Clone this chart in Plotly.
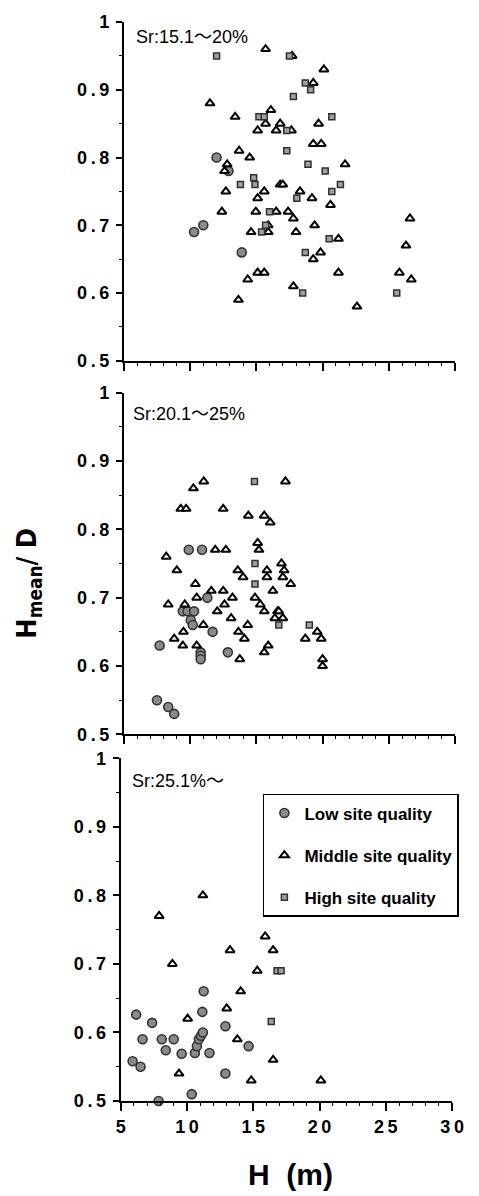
import plotly.graph_objects as go

# ---------------- data ----------------
# Panel 1: Sr 15.1~20%
p1_low_x = [10.3, 11.0, 12.0, 12.9, 13.9]
p1_low_y = [0.69, 0.70, 0.80, 0.78, 0.66]
p1_mid_x = [15.7, 17.7, 20.1, 19.3, 11.5, 13.4, 16.1, 15.7, 15.1, 16.8, 16.5, 17.65, 19.7, 19.3, 19.9,
            13.7, 14.5, 12.8, 12.6, 21.7, 16.8, 17.0, 12.7, 15.6, 18.3, 15.1, 19.2, 12.4, 14.96, 16.5,
            17.4, 17.8, 20.6, 14.6, 15.9, 15.9, 18.0, 19.4, 21.2, 19.85, 19.3, 15.1, 15.6, 14.35, 13.65,
            17.8, 21.2, 22.6, 25.8, 26.3, 26.6, 26.7]
p1_mid_y = [0.96, 0.95, 0.93, 0.91, 0.88, 0.86, 0.87, 0.85, 0.84, 0.85, 0.84, 0.84, 0.85, 0.82, 0.82,
            0.81, 0.80, 0.79, 0.78, 0.79, 0.76, 0.76, 0.75, 0.75, 0.75, 0.74, 0.74, 0.72, 0.72, 0.72,
            0.72, 0.71, 0.73, 0.69, 0.70, 0.69, 0.69, 0.70, 0.68, 0.66, 0.65, 0.63, 0.63, 0.62, 0.59,
            0.61, 0.63, 0.58, 0.63, 0.67, 0.71, 0.62]
p1_high_x = [12.0, 17.5, 18.7, 19.1, 17.8, 15.2, 15.6, 20.7, 17.3, 17.3, 18.9, 20.2, 14.8, 14.9, 13.8,
             21.35, 20.7, 18.06, 16.0, 15.4, 15.7, 20.5, 18.7, 18.5, 25.6]
p1_high_y = [0.95, 0.95, 0.91, 0.90, 0.89, 0.86, 0.86, 0.86, 0.84, 0.81, 0.79, 0.78, 0.77, 0.76, 0.76,
             0.76, 0.75, 0.74, 0.72, 0.69, 0.70, 0.68, 0.66, 0.60, 0.60]

# Panel 2: Sr 20.1~25%
p2_low_x = [9.9, 10.9, 11.3, 9.45, 9.8, 10.3, 10.05, 10.2, 11.7, 7.7, 10.8, 10.8, 10.8, 12.85, 7.5, 8.35, 8.8]
p2_low_y = [0.77, 0.77, 0.70, 0.68, 0.68, 0.68, 0.667, 0.66, 0.65, 0.63, 0.62, 0.615, 0.61, 0.62, 0.55, 0.54, 0.53]
p2_mid_x = [10.25, 11.03, 17.2, 9.3, 9.7, 12.5, 14.4, 15.6, 16.05, 15.1, 15.2, 11.9, 12.7, 8.2, 16.9,
            9.0, 13.6, 14.0, 15.8, 15.8, 17.1, 17.0, 17.6, 10.4, 16.25, 11.6, 12.5, 10.5, 13.2, 14.9,
            8.35, 9.6, 12.6, 15.3, 12.05, 15.6, 16.6, 16.7, 16.4, 17.0, 13.1, 11.0, 9.5, 13.65, 14.35,
            19.6, 18.7, 19.9, 14.1, 8.8, 9.45, 10.5, 15.9, 15.6, 13.75, 20.0, 20.0]
p2_mid_y = [0.86, 0.87, 0.87, 0.83, 0.83, 0.83, 0.82, 0.82, 0.81, 0.78, 0.77, 0.77, 0.77, 0.76, 0.75,
            0.74, 0.74, 0.73, 0.74, 0.73, 0.74, 0.73, 0.72, 0.72, 0.71, 0.71, 0.71, 0.70, 0.70, 0.70,
            0.69, 0.69, 0.69, 0.69, 0.68, 0.68, 0.68, 0.68, 0.67, 0.67, 0.67, 0.66, 0.65, 0.65, 0.66,
            0.65, 0.64, 0.64, 0.64, 0.64, 0.63, 0.63, 0.63, 0.62, 0.61, 0.61, 0.60]
p2_high_x = [14.86, 14.9, 14.9, 16.7, 19.0]
p2_high_y = [0.87, 0.75, 0.72, 0.66, 0.66]

# Panel 3: Sr 25.1%~
p3_low_x = [11.26, 11.16, 6.17, 7.37, 12.9, 10.6, 10.75, 10.9, 11.05, 11.2, 6.65, 8.1, 9.0, 8.4, 9.6,
            11.7, 14.65, 5.9, 6.5, 12.9, 10.36, 7.86]
p3_low_y = [0.66, 0.63, 0.626, 0.614, 0.609, 0.57, 0.58, 0.59, 0.595, 0.60, 0.59, 0.59, 0.59, 0.574, 0.569,
            0.57, 0.58, 0.558, 0.55, 0.54, 0.51, 0.50]
p3_mid_x = [11.2, 7.9, 15.9, 13.25, 16.5, 8.9, 15.3, 14.05, 13.0, 10.05, 13.8, 16.5, 9.4, 14.85, 20.1]
p3_mid_y = [0.80, 0.77, 0.74, 0.72, 0.72, 0.70, 0.69, 0.66, 0.635, 0.62, 0.59, 0.56, 0.54, 0.53, 0.53]
p3_high_x = [16.8, 17.1, 16.36]
p3_high_y = [0.69, 0.69, 0.616]

panel_labels = ["Sr:15.1～20%", "Sr:20.1～25%", "Sr:25.1%～"]
series_names = ["Low site quality", "Middle site quality", "High site quality"]

y_tickvals = [0.5, 0.6, 0.7, 0.8, 0.9, 1.0]
y_ticktext = ["0\u2009.\u20095", "0\u2009.\u20096", "0\u2009.\u20097", "0\u2009.\u20098", "0\u2009.\u20099", "1"]
x_tickvals = [5, 10, 15, 20, 25, 30]
x_ticktext = ["5", "1\u20090", "1\u20095", "2\u20090", "2\u20095", "3\u20090"]

# ---------------- styles ----------------
W, H = 479, 1196
ML, MR, MT, MB = 120, 12, 15, 95
PW, PH = W - ML - MR, H - MT - MB


def px_x(p):
    return (p - ML) / PW


def px_y(p):
    return (H - MB - p) / PH


styles = {
    "low": dict(symbol="circle", size=9, color="#8a8a8a", line=dict(color="#333333", width=1.6)),
    "mid": dict(symbol="triangle-up", size=8, color="white", line=dict(color="black", width=2)),
    "high": dict(symbol="square", size=6, color="#a0a0a0", line=dict(color="#303030", width=1.5)),
}

panels = [
    (p1_low_x, p1_low_y, p1_mid_x, p1_mid_y, p1_high_x, p1_high_y),
    (p2_low_x, p2_low_y, p2_mid_x, p2_mid_y, p2_high_x, p2_high_y),
    (p3_low_x, p3_low_y, p3_mid_x, p3_mid_y, p3_high_x, p3_high_y),
]

fig = go.Figure()
for i, (lx, ly, mx, my, hx, hy) in enumerate(panels):
    sfx = "" if i == 0 else str(i + 1)
    for key, xs, ys, name in (("low", lx, ly, series_names[0]),
                              ("mid", mx, my, series_names[1]),
                              ("high", hx, hy, series_names[2])):
        fig.add_trace(go.Scatter(
            x=xs, y=ys, mode="markers", name=name, legendgroup=key,
            showlegend=(i == 0), marker=styles[key], cliponaxis=False,
            xaxis="x" + sfx, yaxis="y" + sfx,
        ))

tickfont = dict(family="Liberation Sans, Arial, sans-serif", size=18, color="black", weight=700)

x_domains = [[px_x(124), px_x(467)], [px_x(124), px_x(467)], [px_x(120.7), px_x(464)]]
y_domains = [[px_y(356), px_y(15)], [px_y(732), px_y(388)], [px_y(1101), px_y(756)]]

layout = dict(
    width=W, height=H, autosize=False,
    margin=dict(l=ML, r=MR, t=MT, b=MB),
    paper_bgcolor="white", plot_bgcolor="white",
    showlegend=True,
    legend=dict(
        x=px_x(268), y=px_y(792), xanchor="left", yanchor="top",
        bordercolor="black", borderwidth=1.5, bgcolor="white",
        font=dict(family="Liberation Sans, Arial, sans-serif", size=17, color="black", weight=700),
        traceorder="grouped", tracegroupgap=17, itemwidth=30,
    ),
)

for i in range(3):
    sfx = "" if i == 0 else str(i + 1)
    layout["xaxis" + sfx] = dict(
        domain=x_domains[i], anchor="y" + sfx, range=[5, 30],
        showline=True, linecolor="black", linewidth=2,
        showgrid=False, zeroline=False,
        ticks="outside", ticklen=8, tickwidth=1.5, tickcolor="black",
        tickvals=x_tickvals, ticktext=x_ticktext,
        showticklabels=(i == 2), tickfont=tickfont,
        minor=dict(ticks="outside", ticklen=3, tickwidth=1, tickcolor="black", dtick=1, showgrid=False),
    )
    layout["yaxis" + sfx] = dict(
        domain=y_domains[i], anchor="x" + sfx, range=[0.5, 1.0],
        showline=True, linecolor="black", linewidth=2,
        showgrid=False, zeroline=False,
        ticks="outside", ticklen=6, tickwidth=1.5, tickcolor="black",
        tickvals=y_tickvals, ticktext=y_ticktext,
        tickfont=tickfont, ticklabelstandoff=3,
        minor=dict(ticks="outside", ticklen=3, tickwidth=1, tickcolor="black", dtick=0.05, showgrid=False),
    )

fig.update_layout(**layout)

label_pos = [(135, 30), (131.7, 410), (130, 779)]
for txt, (lxp, lyp) in zip(panel_labels, label_pos):
    fig.add_annotation(
        text=txt, xref="paper", yref="paper", x=px_x(lxp), y=px_y(lyp),
        xanchor="left", yanchor="middle", showarrow=False,
        font=dict(family="Liberation Sans, Arial, Noto Sans CJK JP, sans-serif", size=18, color="black"),
    )

fig.add_annotation(
    text="H<sub>mean</sub>/ D", xref="paper", yref="paper", x=px_x(25), y=px_y(580),
    xanchor="center", yanchor="middle", textangle=-90, showarrow=False,
    font=dict(family="Liberation Sans Narrow, DejaVu Sans Condensed, Arial Narrow, sans-serif",
              size=27, color="black", weight=700),
)
fig.add_annotation(
    text="H\u00a0\u00a0(m)", xref="paper", yref="paper", x=px_x(297), y=px_y(1175),
    xanchor="center", yanchor="middle", showarrow=False,
    font=dict(family="Liberation Sans, Arial, sans-serif", size=30, color="black", weight=700),
)

fig.write_html("out.html")
